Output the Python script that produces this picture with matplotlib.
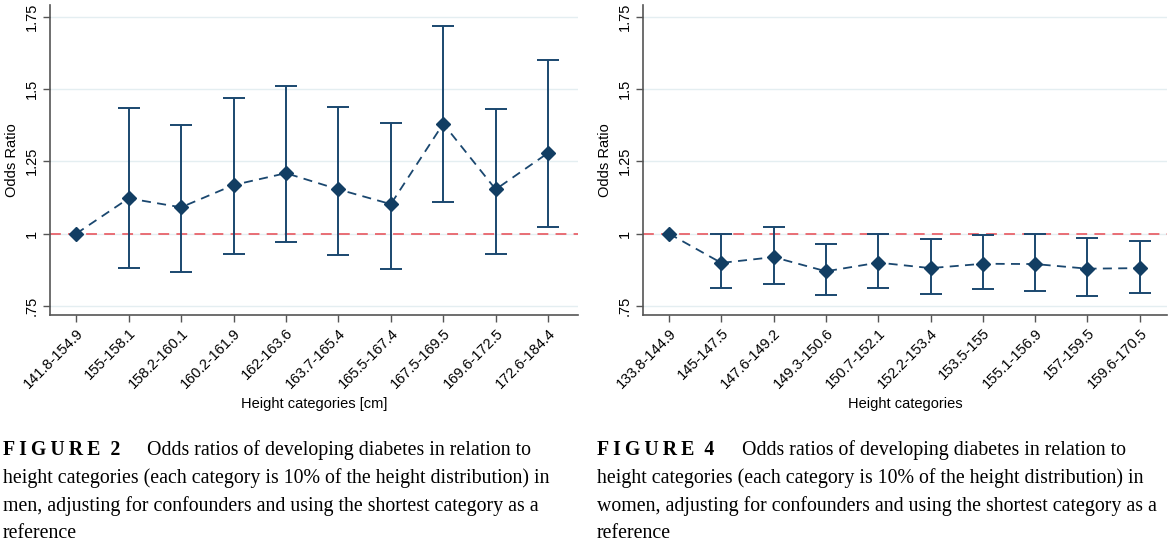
import matplotlib
matplotlib.use("Agg")
import matplotlib.pyplot as plt
import numpy as np

# ---- data ----
men_labels = ["141.8-154.9", "155-158.1", "158.2-160.1", "160.2-161.9", "162-163.6",
              "163.7-165.4", "165.5-167.4", "167.5-169.5", "169.6-172.5", "172.6-184.4"]
men_or = [1.0, 1.122, 1.091, 1.168, 1.209, 1.153, 1.102, 1.380, 1.153, 1.279]
men_lo = [1.0, 0.880, 0.866, 0.931, 0.970, 0.925, 0.879, 1.110, 0.931, 1.023]
men_hi = [1.0, 1.435, 1.376, 1.468, 1.510, 1.438, 1.383, 1.719, 1.430, 1.600]

women_labels = ["133.8-144.9", "145-147.5", "147.6-149.2", "149.3-150.6", "150.7-152.1",
                "152.2-153.4", "153.5-155", "155.1-156.9", "157-159.5", "159.6-170.5"]
women_or = [1.0, 0.899, 0.919, 0.870, 0.900, 0.881, 0.896, 0.895, 0.879, 0.881]
women_lo = [1.0, 0.813, 0.826, 0.788, 0.813, 0.792, 0.808, 0.803, 0.783, 0.795]
women_hi = [1.0, 0.998, 1.024, 0.963, 0.998, 0.983, 0.995, 0.998, 0.986, 0.976]

yticks = [0.75, 1.0, 1.25, 1.5, 1.75]
ytick_labels = [".75", "1", "1.25", "1.5", "1.75"]

caption_left = ["Odds ratios of developing diabetes in relation to",
                "height categories (each category is 10% of the height distribution) in",
                "men, adjusting for confounders and using the shortest category as a",
                "reference"]
caption_right = ["Odds ratios of developing diabetes in relation to",
                 "height categories (each category is 10% of the height distribution) in",
                 "women, adjusting for confounders and using the shortest category as a",
                 "reference"]

NAVY = "#1a476f"
MARK = "#123e63"
RED = "#e8636a"
GRID = "#e4eef1"
SANS = ["Liberation Sans", "DejaVu Sans"]
SERIF = ["Liberation Serif", "DejaVu Serif"]

W, H = 1170, 545
fig = plt.figure(figsize=(W / 100, H / 100), dpi=100)
fig.patch.set_facecolor("white")


def panel(rect, labels, orv, lo, hi, xlim, xlabel):
    ax = fig.add_axes(rect)
    x = np.arange(1, len(labels) + 1)
    orv = np.array(orv); lo = np.array(lo); hi = np.array(hi)
    for yt in yticks:
        ax.axhline(yt, color=GRID, lw=1.0, zorder=0)
    ax.axhline(1.0, color=RED, lw=1.3, ls=(0, (6, 4)), zorder=1)
    ax.errorbar(x[1:], orv[1:], yerr=[orv[1:] - lo[1:], hi[1:] - orv[1:]],
                fmt="none", ecolor=NAVY, elinewidth=1.4, capsize=8, capthick=1.4, zorder=2)
    ax.plot(x, orv, color=NAVY, lw=1.3, ls=(0, (5, 3.5)), zorder=3)
    ax.plot(x, orv, ls="none", marker="D", ms=7.5, color=MARK, zorder=4)
    ax.set_xlim(*xlim)
    ax.set_ylim(0.719, 1.79)
    ax.set_yticks(yticks)
    ax.set_yticklabels(ytick_labels, rotation=90, va="center", family=SANS, fontsize=10.5)
    ax.set_xticks(x)
    ax.set_xticklabels(labels, rotation=45, ha="right", rotation_mode="anchor",
                       family=SANS, fontsize=10.5)
    ax.set_ylabel("Odds Ratio", family=SANS, fontsize=10.5, labelpad=4)
    ax.set_xlabel(xlabel, family=SANS, fontsize=10.5, labelpad=4.5)
    for s in ["top", "right"]:
        ax.spines[s].set_visible(False)
    for s in ["left", "bottom"]:
        ax.spines[s].set_color("#555555")
        ax.spines[s].set_linewidth(1.2)
    ax.tick_params(axis="both", direction="out", length=5, width=1.0, color="#555555", pad=3)
    return ax


bot = 1 - 315 / H
top = 1 - 5 / H
panel([50 / W, bot, 528 / W, top - bot], men_labels, men_or, men_lo, men_hi,
      (0.5, 10.57), "Height categories [cm]")
panel([643 / W, bot, 524 / W, top - bot], women_labels, women_or, women_lo, women_hi,
      (0.503, 10.52), "Height categories")


def caption(x0, x1, num, lines):
    ys = [455, 483, 511, 538]
    fs = 14.3
    fig.text(x0 / W, 1 - ys[0] / H, "F\u2009I\u2009G\u2009U\u2009R\u2009E  " + num,
             family=SERIF, fontweight="bold", fontsize=fs, ha="left", va="baseline")
    fig.text(x1 / W, 1 - ys[0] / H, lines[0], family=SERIF, fontsize=fs,
             ha="left", va="baseline")
    for yy, t in zip(ys[1:], lines[1:]):
        fig.text(x0 / W, 1 - yy / H, t, family=SERIF, fontsize=fs, ha="left", va="baseline")


caption(3, 147, "2", caption_left)
caption(597, 742, "4", caption_right)

fig.savefig("out.png", dpi=100, facecolor="white")
